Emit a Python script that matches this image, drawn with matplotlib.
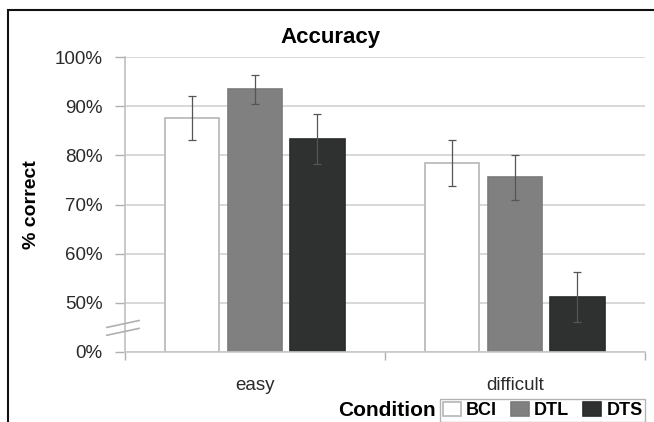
import matplotlib.pyplot as plt
import numpy as np
from matplotlib.patches import Rectangle

plt.rcParams['font.family'] = ['Liberation Sans', 'DejaVu Sans']

# data (% correct)
categories = ['easy', 'difficult']
conditions = ['BCI', 'DTL', 'DTS']
acc_bci = [87.6, 78.5]
acc_dtl = [93.4, 75.5]
acc_dts = [83.4, 51.2]
err_bci = [4.4, 4.7]
err_dtl = [3.0, 4.6]
err_dts = [5.1, 5.0]
ytick_labels = ['0%', '50%', '60%', '70%', '80%', '90%', '100%']
ytick_values = [0, 50, 60, 70, 80, 90, 100]

# broken axis: 0% sits one grid step below 50%
def to_axis(v):
    v = np.asarray(v, dtype=float)
    return np.where(v >= 40, v - 40, v * 10 / 50)

colors = ['white', '#808080', '#2f3131']
edges = ['#b5b5b5', '#7a7a7a', '#2a2a2a']

fig = plt.figure(figsize=(6.54, 4.22), dpi=100)
ax = fig.add_axes([125/654, 1-352/422, 520/654, 295/422])

x = np.arange(len(categories))
width = 0.21
offs = [-0.242, 0.0, 0.24]
series = [(acc_bci, err_bci), (acc_dtl, err_dtl), (acc_dts, err_dts)]
handles = []
for i, (vals, errs) in enumerate(series):
    vals = np.array(vals)
    errs = np.array(errs)
    top = to_axis(vals)
    b = ax.bar(x + offs[i], top, width, color=colors[i], edgecolor=edges[i],
               linewidth=1.2, label=conditions[i], zorder=2)
    handles.append(b)
    lo = top - to_axis(vals - errs)
    hi = to_axis(vals + errs) - top
    ax.errorbar(x + offs[i], top, yerr=[lo, hi], fmt='none', ecolor='#555555',
                elinewidth=0.9, capsize=3, capthick=0.9, zorder=3)

ax.set_xlim(-0.5, 1.5)
ax.set_ylim(0, 60)
ax.set_yticks(to_axis(ytick_values))
ax.set_yticklabels(ytick_labels)
ax.yaxis.grid(True, color='#d2d2d2', linewidth=1.2, zorder=0)
ax.set_axisbelow(True)

ax.set_xticks(x)
ax.set_xticklabels(categories)
ax.set_xticks([-0.5, 0.5, 1.5], minor=True)
ax.tick_params(axis='x', which='major', length=0, pad=18, labelsize=13.5, labelcolor='#2a2a2a')
ax.tick_params(axis='x', which='minor', length=6, color='#b0b0b0', width=1)
ax.tick_params(axis='y', length=7, color='#b0b0b0', width=1, pad=9,
               labelsize=13.5, labelcolor='#2a2a2a')
for s in ['top', 'right']:
    ax.spines[s].set_visible(False)
ax.spines['left'].set_color('#c0c0c0')
ax.spines['left'].set_linewidth(1.2)
ax.spines['bottom'].set_color('#c8c8c8')
ax.spines['bottom'].set_linewidth(1.2)

# axis break marks
tr = ax.get_yaxis_transform()
for dy in (0, -1.6):
    ax.plot([-0.035, 0.027], [5.0 + dy, 6.4 + dy], color='#b0b0b0', lw=1.2,
            transform=tr, clip_on=False, zorder=5)

fig.text(0.505, 1-38/422, 'Accuracy', ha='center', va='center',
         fontsize=16, fontweight='bold')
fig.text(32/654, 1-205/422, '% correct', ha='center', va='center',
         rotation=90, fontsize=14, fontweight='bold')

fig.text(436/654, 1-410/422, 'Condition', ha='right', va='center',
         fontsize=15, fontweight='bold')
leg = fig.legend(handles, conditions, loc='upper left',
                 bbox_to_anchor=(440/654, 1-399/422), ncol=3, frameon=True,
                 fancybox=False, edgecolor='#a0a0a0', handlelength=1.0,
                 handleheight=0.85, handletextpad=0.3, columnspacing=0.75,
                 borderpad=0.15, borderaxespad=0,
                 prop={'weight': 'bold', 'size': 13})
leg.get_frame().set_linewidth(1.0)

fig.patches.append(Rectangle((8/654, -0.1), 1.0, 1.1 - 10/422, fill=False,
                             edgecolor='#111111', linewidth=1.5,
                             transform=fig.transFigure, figure=fig))

fig.savefig('out.png', dpi=100)
